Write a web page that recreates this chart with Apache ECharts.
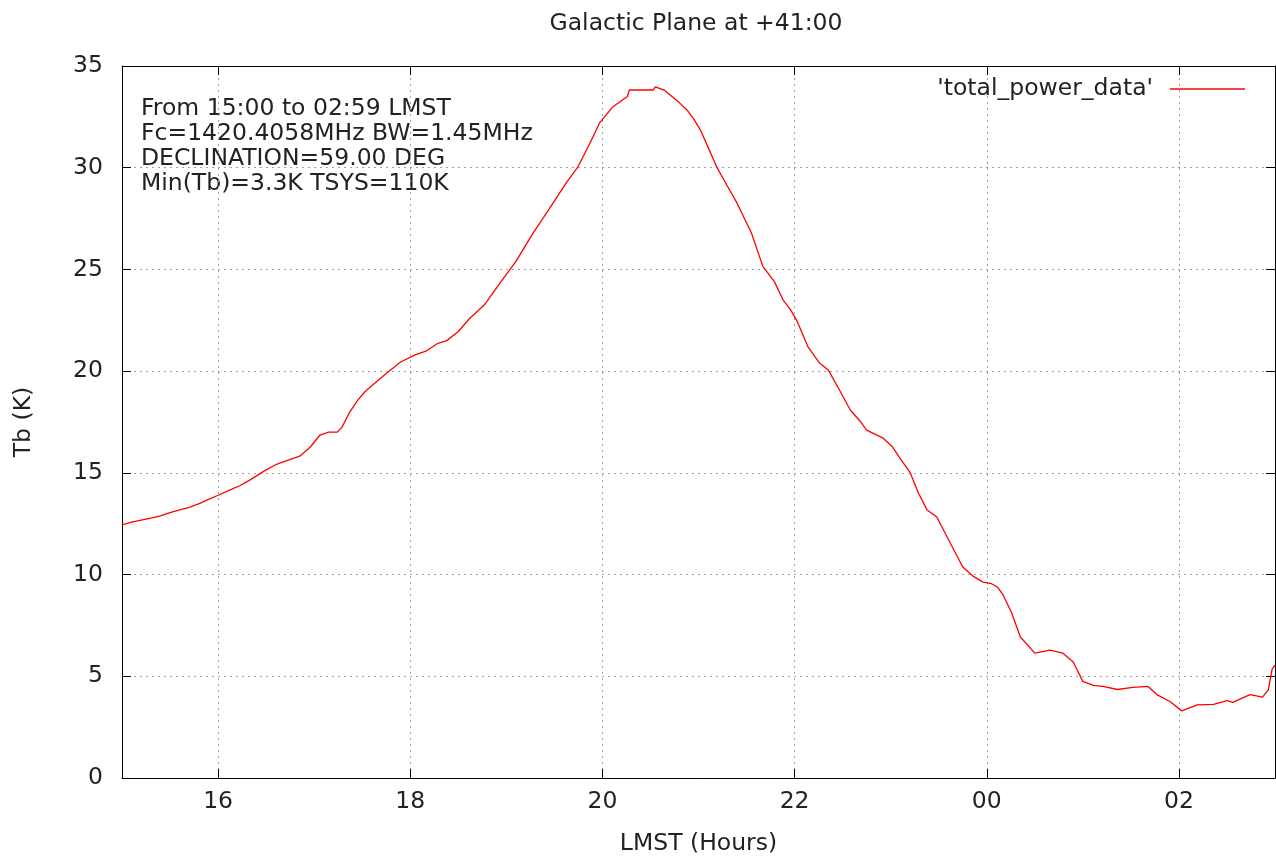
<!DOCTYPE html>
<html>
<head>
<meta charset="utf-8">
<script src="https://cdn.jsdelivr.net/npm/echarts@6/dist/echarts.min.js"></script>
<style>
html,body{margin:0;padding:0;background:#fff;}
#chart{width:1276px;height:860px;}
</style>
</head>
<body>
<div id="chart"></div>
<script>
// LMST in hours (15 = 15:00, 24 = 00:00, 27 = 03:00)
const lmstHours = [15.00,15.10,15.20,15.30,15.40,15.50,15.60,15.70,15.81,15.90,16.00,16.12,16.23,16.32,16.40,16.49,16.60,16.70,16.85,16.96,17.06,17.15,17.24,17.29,17.37,17.45,17.53,17.63,17.74,17.90,18.05,18.17,18.28,18.38,18.50,18.62,18.77,18.93,19.10,19.28,19.45,19.63,19.74,19.87,19.97,20.11,20.26,20.28,20.53,20.55,20.65,20.73,20.80,20.88,20.95,21.02,21.10,21.19,21.30,21.40,21.55,21.67,21.79,21.88,21.96,22.03,22.14,22.26,22.35,22.47,22.58,22.68,22.75,22.92,23.02,23.10,23.20,23.29,23.38,23.48,23.62,23.75,23.85,23.96,24.05,24.11,24.17,24.26,24.35,24.50,24.66,24.79,24.90,25.00,25.11,25.21,25.36,25.52,25.68,25.77,25.91,26.03,26.19,26.36,26.50,26.56,26.74,26.87,26.93,26.97,27.00];
const tbValues  = [12.44,12.58,12.68,12.78,12.88,13.05,13.18,13.30,13.50,13.70,13.90,14.15,14.38,14.62,14.85,15.12,15.40,15.58,15.82,16.27,16.86,17.00,17.00,17.25,17.99,18.55,19.00,19.40,19.85,20.45,20.80,21.00,21.35,21.50,21.95,22.60,23.25,24.30,25.40,26.80,28.00,29.30,30.00,31.20,32.20,33.00,33.50,33.82,33.82,33.97,33.80,33.48,33.20,32.84,32.40,31.85,31.00,30.03,29.10,28.27,26.80,25.15,24.40,23.50,23.00,22.42,21.19,20.40,20.06,19.05,18.09,17.55,17.10,16.71,16.27,15.70,15.04,14.00,13.17,12.83,11.55,10.37,9.95,9.63,9.55,9.39,9.00,8.11,6.93,6.14,6.29,6.14,5.70,4.75,4.55,4.50,4.35,4.45,4.50,4.10,3.75,3.30,3.59,3.62,3.80,3.72,4.10,3.98,4.33,5.35,5.55];
const xTickValues = [16,18,20,22,24,26];
const infoLines = ['From 15:00 to 02:59 LMST','Fc=1420.4058MHz BW=1.45MHz','DECLINATION=59.00 DEG','Min(Tb)=3.3K TSYS=110K'];
const seriesName = "'total_power_data'";

const FONT = 'DejaVu Sans';
const FS = 23.5;
const TXT = '#222222';
const seriesData = lmstHours.map((x, i) => [x, tbValues[i]]);
const pad2 = v => { const h = Math.round(v) % 24; return (h < 10 ? '0' : '') + h; };

const chart = echarts.init(document.getElementById('chart'), null, {renderer: 'canvas'});
const gridLine = {show: true, lineStyle: {color: '#a0a0a0', type: [2, 4], width: 1}};
chart.setOption({
  animation: false,
  backgroundColor: '#ffffff',
  textStyle: {fontFamily: FONT},
  title: {
    text: 'Galactic Plane at +41:00',
    left: 691, textAlign: 'center', top: 7,
    textStyle: {fontFamily: FONT, fontSize: FS, fontWeight: 'normal', color: TXT}
  },
  legend: {
    right: 26, top: 72, align: 'right',
    itemWidth: 75, itemHeight: 1.5, icon: 'rect',
    textStyle: {fontFamily: FONT, fontSize: FS, color: TXT, padding: [0, 12, 0, 0]},
    data: [seriesName]
  },
  grid: {left: 122, right: 1, top: 66, bottom: 82, outerBoundsMode: 'none', containLabel: false},
  xAxis: [{
    type: 'value', min: 15, max: 27, position: 'bottom',
    name: 'LMST (Hours)', nameLocation: 'middle', nameGap: 54,
    nameTextStyle: {fontFamily: FONT, fontSize: FS, color: TXT},
    axisLine: {show: true, onZero: false, lineStyle: {color: '#000', width: 1}},
    axisTick: {show: true, inside: true, length: 9, customValues: xTickValues, lineStyle: {color: '#000'}},
    axisLabel: {show: true, customValues: xTickValues, formatter: pad2, margin: 12,
      fontFamily: FONT, fontSize: FS, color: TXT},
    splitLine: gridLine
  }, {
    type: 'value', min: 15, max: 27, position: 'top',
    axisLine: {show: true, onZero: false, lineStyle: {color: '#000', width: 1}},
    axisTick: {show: true, inside: true, length: 9, customValues: xTickValues, lineStyle: {color: '#000'}},
    axisLabel: {show: false},
    splitLine: {show: false}
  }],
  yAxis: [{
    type: 'value', min: 0, max: 35, interval: 5, position: 'left',
    name: 'Tb (K)', nameLocation: 'middle', nameGap: 86, nameRotate: 90,
    nameTextStyle: {fontFamily: FONT, fontSize: FS, color: TXT},
    axisLine: {show: true, onZero: false, lineStyle: {color: '#000', width: 1}},
    axisTick: {show: true, inside: true, length: 9, lineStyle: {color: '#000'}},
    axisLabel: {show: true, margin: 19, fontFamily: FONT, fontSize: FS, color: TXT},
    splitLine: gridLine
  }, {
    type: 'value', min: 0, max: 35, interval: 5, position: 'right',
    axisLine: {show: true, onZero: false, lineStyle: {color: '#000', width: 1}},
    axisTick: {show: true, inside: true, length: 9, lineStyle: {color: '#000'}},
    axisLabel: {show: false},
    splitLine: {show: false}
  }],
  graphic: [{
    type: 'text', left: 141, top: 96,
    style: {text: infoLines.join('\n'), fontFamily: FONT, fontSize: FS, lineHeight: 25, fill: TXT}
  }],
  series: [{
    name: seriesName, type: 'line', xAxisIndex: 0, yAxisIndex: 0,
    data: seriesData, showSymbol: false, symbol: 'none',
    lineStyle: {color: '#ff0000', width: 1.3}, itemStyle: {color: '#ff0000'}
  }]
});
</script>
</body>
</html>
